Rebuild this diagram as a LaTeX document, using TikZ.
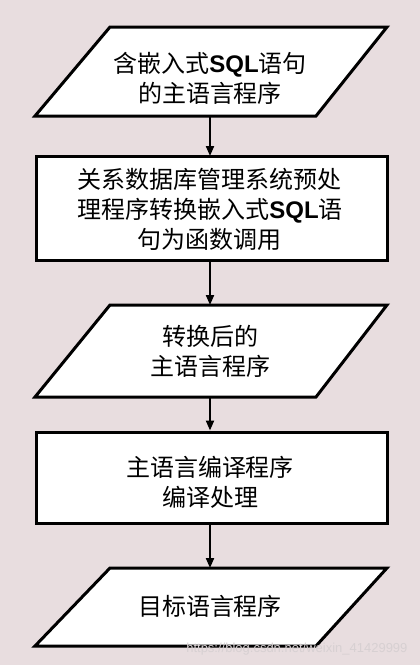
\documentclass[tikz,border=0pt]{standalone}
\usepackage{fontspec}
\newfontfamily\cjk{Noto Sans CJK SC}
\newfontfamily\lat{Liberation Sans}
\usetikzlibrary{arrows.meta}
\definecolor{bgc}{RGB}{232,221,223}
\definecolor{wmk}{RGB}{215,208,210}
\newcommand\sqltxt{{\lat\bfseries SQL}}
\begin{document}
\begin{tikzpicture}[x=1pt,y=-1pt,
  shapebox/.style={draw=black,line width=3pt,fill=white},
  txt/.style={font=\cjk\fontsize{24}{30}\selectfont, align=center, inner sep=0pt},
  arr/.style={-{Triangle[length=10pt,width=8pt]}, line width=2pt}]
\fill[bgc] (0,0) rectangle (420,665);
\useasboundingbox (0,0) rectangle (420,665);
% parallelogram 1
\draw[shapebox] (110,27) -- (387,27) -- (316,116) -- (35,116) -- cycle;
\coordinate (p1b) at (210,116);
\node[txt] (p1) at (210,78) {含嵌入式\sqltxt 语句\\的主语言程序};
% rect 1
\node[shapebox, minimum width=351pt, minimum height=104pt] (r1) at (211.5,208) {};
\node[txt] (r1t) at (210,209) {关系数据库管理系统预处\\理程序转换嵌入式\sqltxt 语\\句为函数调用};
% parallelogram 2
\draw[shapebox] (110,305) -- (387,305) -- (316,397) -- (35,397) -- cycle;
\coordinate (p2t) at (210,305);
\coordinate (p2b) at (210,397);
\node[txt] (p2) at (210,351) {转换后的\\主语言程序};
% rect 2
\node[shapebox, minimum width=351pt, minimum height=91pt] (r2) at (211.5,477.5) {};
\node[txt] (r2t) at (210,482) {主语言编译程序\\编译处理};
% parallelogram 3
\draw[shapebox] (110,568) -- (387,568) -- (316,646) -- (35,646) -- cycle;
\coordinate (p3t) at (210,568);
\node[txt] (p3) at (210,606) {目标语言程序};
% arrows
\draw[arr] (p1b) -- (210,156);
\draw[arr] (r1.south -| p1b) -- (p2t);
\draw[arr] (p2b) -- (r2.north -| p2b);
\draw[arr] (r2.south -| p2b) -- (p3t);
% watermark
\node[font=\lat\fontsize{13}{13}\selectfont, text=wmk, anchor=east] (wm) at (411,649) {https://blog.csdn.net/weixin\_41429999};
\end{tikzpicture}
\end{document}
